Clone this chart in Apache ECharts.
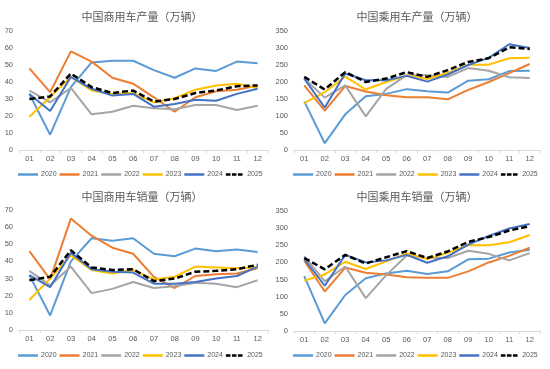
<!DOCTYPE html>
<html><head><meta charset="utf-8">
<script src="https://cdn.jsdelivr.net/npm/echarts@6/dist/echarts.min.js"></script>
<style>html,body{margin:0;padding:0;background:#fff}#c{width:550px;height:369px}</style>
</head><body><div id="c"></div>
<script>
const months = ['01','02','03','04','05','06','07','08','09','10','11','12'];
const years = ['2020','2021','2022','2023','2024','2025'];
const titles = ['中国商用车产量（万辆）','中国乘用车产量（万辆）','中国商用车销量（万辆）','中国乘用车销量（万辆）'];

// 中国商用车产量
const cvProd2020 = [33, 9, 37, 51.5, 52.5, 52.5, 47, 42.5, 48, 46.5, 52, 51];
const cvProd2021 = [48, 34, 58, 52, 42.5, 39, 31, 22.5, 31, 34.5, 35.5, 38];
const cvProd2022 = [35, 28, 36.5, 21, 22.5, 26, 24.5, 24, 26.5, 26.5, 23.5, 26];
const cvProd2023 = [19.5, 31, 43, 35, 33, 33.5, 28, 30.5, 35.5, 38, 39, 36.5];
const cvProd2024 = [33, 23, 43, 36, 32, 33, 25.5, 27, 29.5, 29, 33, 36];
const cvProd2025 = [30, 31.5, 45, 37, 33.5, 35, 28.5, 30, 33.5, 35, 37.5, 38];

// 中国乘用车产量
const pvProd2020 = [143, 20, 105, 158, 165, 179, 173, 169, 204, 208, 232, 233];
const pvProd2021 = [190, 116, 188, 172, 161, 155, 155, 149, 177, 200, 226, 253];
const pvProd2022 = [210, 154, 190, 99, 180, 220, 220, 215, 241, 233, 214, 212];
const pvProd2023 = [138, 170, 216, 178, 200, 219, 209, 227, 251, 251, 270, 271];
const pvProd2024 = [210, 125, 225, 205, 205, 218, 201, 222, 250, 271, 311, 300];
const pvProd2025 = [215, 178, 229, 200, 210, 229, 215, 235, 259, 270, 302, 297];

// 中国商用车销量
const cvSales2020 = [32, 8.5, 40, 53.5, 52, 53.5, 44.5, 43, 47.5, 46, 47, 45.5];
const cvSales2021 = [46, 29.5, 65, 55, 48, 44.5, 31, 24.5, 31.5, 32.5, 33, 36];
const cvSales2022 = [34.5, 26, 37, 21.5, 24, 28, 24.5, 25.5, 27.5, 27, 25, 29];
const cvSales2023 = [17.5, 30, 43.5, 35, 33, 35, 29.5, 31, 37, 36.5, 36, 36.5];
const cvSales2024 = [32, 25, 45, 35.5, 34, 33.5, 27, 27, 28, 30, 31.5, 37];
const cvSales2025 = [29, 31, 46.5, 36.5, 35, 35.5, 28.5, 30, 34, 34.5, 35.5, 38];

// 中国乘用车销量
const pvSales2020 = [160, 22, 105, 154, 168, 176, 166, 174, 209, 211, 229, 237];
const pvSales2021 = [205, 115, 185, 170, 165, 157, 155, 155, 174, 200, 219, 243];
const pvSales2022 = [218, 145, 188, 96, 163, 220, 213, 213, 234, 225, 206, 227];
const pvSales2023 = [147, 165, 202, 181, 203, 226, 210, 228, 250, 250, 259, 280];
const pvSales2024 = [210, 132, 222, 200, 206, 222, 199, 218, 252, 277, 299, 312];
const pvSales2025 = [213, 180, 222, 197, 215, 233, 213, 232, 260, 274, 293, 306];

const panelData = [
  [cvProd2020, cvProd2021, cvProd2022, cvProd2023, cvProd2024, cvProd2025],
  [pvProd2020, pvProd2021, pvProd2022, pvProd2023, pvProd2024, pvProd2025],
  [cvSales2020, cvSales2021, cvSales2022, cvSales2023, cvSales2024, cvSales2025],
  [pvSales2020, pvSales2021, pvSales2022, pvSales2023, pvSales2024, pvSales2025]
];
const yMax = [70, 350, 70, 350];
const yStep = [10, 50, 10, 50];

const colors = ['#5B9BD5','#ED7D31','#A5A5A5','#FFC000','#4472C4','#000000'];
const grids = [
  {left: 19, top: 31, width: 249, height: 119},
  {left: 294, top: 31, width: 246, height: 119},
  {left: 19, top: 210, width: 249, height: 120},
  {left: 294, top: 211, width: 246, height: 120}
];
const titlePos = [{x:137, y:6},{x:412, y:6},{x:137, y:186},{x:412, y:186}];
const legendTop = [171, 171, 352, 352];
const legendLeft = [18, 293, 18, 293];
const txt = '#595959';
const font = '"Noto Sans CJK SC","Liberation Sans",sans-serif';
const dashIcon = 'path://M0,0h5.5v3h-5.5z M7.25,0h5.5v3h-5.5z M14.5,0h5.5v3h-5.5z';

const option = {
  animation: false,
  backgroundColor: '#fff',
  title: titles.map((t,i)=>({
    text: t, left: titlePos[i].x, top: titlePos[i].y, textAlign: 'center',
    textStyle: {color: txt, fontSize: 11, fontWeight: 'normal', fontFamily: font}
  })),
  legend: [0,1,2,3].map(i=>({
    data: years.map((y,k)=>({name: y, icon: k === 5 ? dashIcon : 'rect'})),
    left: legendLeft[i], top: legendTop[i],
    itemWidth: 20, itemHeight: 2.5, itemGap: 3,
    textStyle: {color: txt, fontSize: 7, fontFamily: '"Liberation Sans",sans-serif', padding: [0,0,0,-2]},
    padding: 0
  })),
  grid: grids,
  xAxis: grids.map((g,i)=>({
    type: 'category', gridIndex: i, data: months,
    axisLine: {lineStyle: {color: '#D9D9D9'}},
    axisTick: {show: true, length: 3, lineStyle: {color: '#D9D9D9'}},
    axisLabel: {color: txt, fontSize: 7.5, margin: 5, fontFamily: '"Liberation Sans",sans-serif'}
  })),
  yAxis: grids.map((g,i)=>({
    type: 'value', gridIndex: i, min: 0, max: yMax[i], interval: yStep[i],
    axisLine: {show: false}, axisTick: {show: false},
    splitLine: {show: false},
    axisLabel: {color: txt, fontSize: 7.5, margin: 6, fontFamily: '"Liberation Sans",sans-serif'}
  })),
  series: []
};
panelData.forEach((arr, p) => {
  arr.forEach((vals, k) => {
    option.series.push({
      name: years[k], type: 'line', xAxisIndex: p, yAxisIndex: p,
      data: vals, symbol: 'none', showSymbol: false,
      z: k === 5 ? 10 : (k === 4 ? 9 : 2 + k),
      lineStyle: {color: colors[k], width: k === 5 ? 2.5 : 2, type: k === 5 ? [6,3] : 'solid'},
      itemStyle: {color: colors[k]}
    });
  });
});
const chart = echarts.init(document.getElementById('c'), null, {renderer: 'canvas'});
chart.setOption(option);
</script>
</body></html>
